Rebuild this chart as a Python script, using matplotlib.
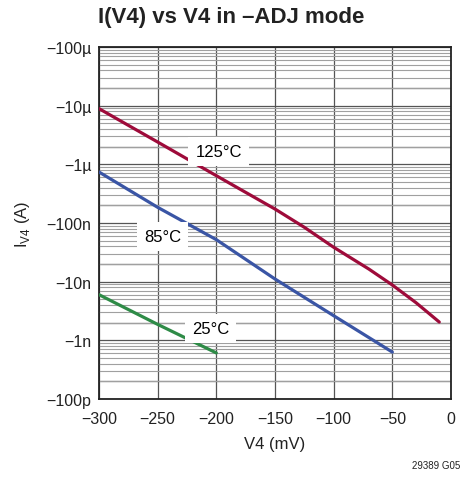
import numpy as np
import matplotlib
matplotlib.use("Agg")
import matplotlib.pyplot as plt
from matplotlib.ticker import LogLocator, NullFormatter

plt.rcParams['font.family'] = ['Liberation Sans Narrow', 'Liberation Sans', 'DejaVu Sans']

# values (current magnitude, A)
v_125 = [-300, -250, -200, -150, -125, -100, -70, -50, -30, -20, -10]
i_125 = [8.9e-6, 2.4e-6, 6.4e-7, 1.73e-7, 8.45e-8, 3.86e-8, 1.64e-8, 8.77e-9, 4.41e-9, 3.01e-9, 2.05e-9]
v_85 = [-300, -250, -200, -150, -100, -50]
i_85 = [7.4e-7, 1.85e-7, 5.2e-8, 1.11e-8, 2.63e-9, 6.3e-10]
v_25 = [-300, -250, -200]
i_25 = [6.0e-9, 1.87e-9, 6.1e-10]

ytick_vals = [1e-10, 1e-9, 1e-8, 1e-7, 1e-6, 1e-5, 1e-4]
ytick_labels = ['\u2212100p', '\u22121n', '\u221210n', '\u2212100n',
                '\u22121\u00b5', '\u221210\u00b5', '\u2212100\u00b5']
xtick_vals = [-300, -250, -200, -150, -100, -50, 0]
xtick_labels = ['\u2212300', '\u2212250', '\u2212200', '\u2212150', '\u2212100', '\u221250', '0']

fig = plt.figure(figsize=(4.62, 4.85), dpi=100)
ax = fig.add_axes([99 / 462, 1 - 400 / 485, 352 / 462, 352 / 485])

ax.set_yscale('log')
ax.set_xlim(-300, 0)
ax.set_ylim(1e-10, 1e-4)

ax.plot(v_125, i_125, color='#9e0b3a', lw=2.3, solid_capstyle='round', zorder=3)
ax.plot(v_85, i_85, color='#3a55a5', lw=2.3, solid_capstyle='round', zorder=3)
ax.plot(v_25, i_25, color='#2e8b47', lw=2.3, solid_capstyle='round', zorder=3)

ax.set_yticks(ytick_vals)
ax.set_yticklabels(ytick_labels)
ax.yaxis.set_minor_locator(LogLocator(base=10, subs=np.arange(2, 10)))
ax.yaxis.set_minor_formatter(NullFormatter())
ax.set_xticks(xtick_vals)
ax.set_xticklabels(xtick_labels)

# grid: decades and the 2x lines darker, the rest lighter
ax.grid(True, which='major', color='#555555', lw=0.9, zorder=1)
ax.grid(True, which='minor', axis='y', color='#a0a0a0', lw=0.8, zorder=1)
for d in ytick_vals[:-1]:
    ax.axhline(2 * d, color='#555555', lw=0.9, zorder=1)
ax.tick_params(which='both', length=0, labelsize=11.5, colors='#222222')
ax.tick_params(axis='x', pad=9)
ax.tick_params(axis='y', pad=5.5)
for s in ax.spines.values():
    s.set_color('#222222')
    s.set_linewidth(1.3)

box = dict(facecolor='white', edgecolor='none', pad=5)
ax.text(-198, 1.63e-6, '125\u00b0C', fontsize=12, ha='center', va='center', bbox=box, zorder=4)
ax.text(-246, 6.0e-8, '85\u00b0C', fontsize=12, ha='center', va='center', bbox=box, zorder=4)
ax.text(-205, 1.62e-9, '25\u00b0C', fontsize=12, ha='center', va='center', bbox=box, zorder=4)

ax.set_xlabel('V4 (mV)', fontsize=12, color='#222222', labelpad=7)
ax.set_ylabel('I$_{\\mathregular{V4}}$ (A)', fontsize=12, color='#222222', labelpad=10)

fig.text(0.5, 1 - 18 / 485, 'I(V4) vs V4 in \u2013ADJ mode', fontsize=16, fontweight='bold',
         ha='center', va='center', color='#222222')
fig.text(0.997, 1 - 466 / 485, '29389 G05', fontsize=7, ha='right', va='center', color='#222222')

fig.savefig('out.png', dpi=100)
